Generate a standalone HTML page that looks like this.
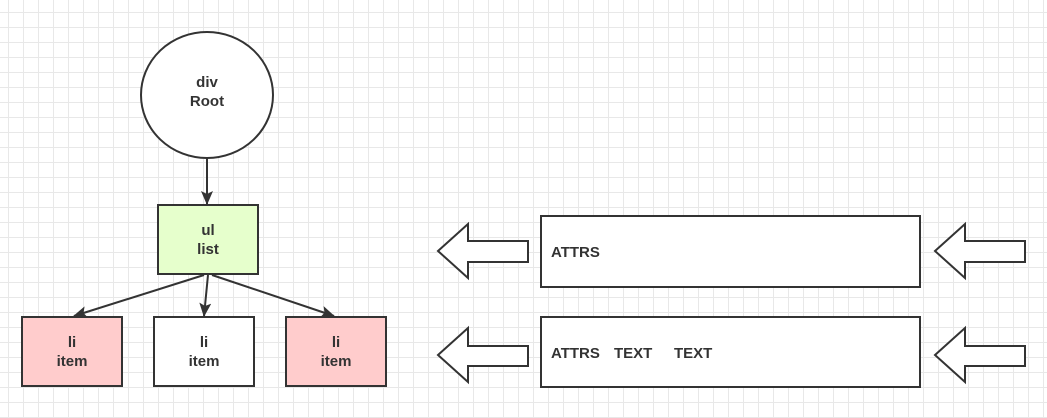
<!DOCTYPE html>
<html><head><style>
body{margin:0;width:1047px;height:418px;overflow:hidden;background:#fff;
background-image:linear-gradient(#e8e8e8 1px,transparent 1px),linear-gradient(90deg,#e8e8e8 1px,transparent 1px);
background-size:15px 15px;background-position:8px 12px;}
svg{position:absolute;left:0;top:0}
text{font-family:"Liberation Sans","Noto Sans CJK SC",sans-serif;font-weight:bold;font-size:15px;fill:#333}
</style></head><body>
<svg width="1047" height="418" viewBox="0 0 1047 418">
<defs><marker id="a" markerWidth="14" markerHeight="12" refX="13" refY="6" orient="auto" markerUnits="userSpaceOnUse"><path d="M0,0 L14,6 L0,12 L3,6 z" fill="#333"/></marker></defs>
<g stroke="#333" stroke-width="2" fill="none">
<ellipse cx="207" cy="95" rx="66" ry="63" fill="#fff"/>
<rect x="158" y="205" width="100" height="69" fill="#e6ffcc"/>
<rect x="22" y="317" width="100" height="69" fill="#ffcccc"/>
<rect x="154" y="317" width="100" height="69" fill="#fff"/>
<rect x="286" y="317" width="100" height="69" fill="#ffcccc"/>
<line x1="207" y1="158" x2="207" y2="204" marker-end="url(#a)"/>
<line x1="204" y1="275" x2="74" y2="316" marker-end="url(#a)"/>
<line x1="208" y1="275" x2="204" y2="316" marker-end="url(#a)"/>
<line x1="212" y1="275" x2="334" y2="316" marker-end="url(#a)"/>
<rect x="541" y="216" width="379" height="71" fill="#fff"/>
<rect x="541" y="317" width="379" height="70" fill="#fff"/>
<path d="M438,251 L468,224 L468,241 L528,241 L528,262 L468,262 L468,278 Z" fill="#fff"/>
<path d="M438,355 L468,328 L468,346 L528,346 L528,366 L468,366 L468,382 Z" fill="#fff"/>
<path d="M935,251 L965,224 L965,241 L1025,241 L1025,262 L965,262 L965,278 Z" fill="#fff"/>
<path d="M935,355 L965,328 L965,346 L1025,346 L1025,366 L965,366 L965,382 Z" fill="#fff"/>
</g>
<g text-anchor="middle">
<text x="207" y="87">div</text><text x="207" y="106">Root</text>
<text x="208" y="235">ul</text><text x="208" y="254">list</text>
<text x="72" y="347">li</text><text x="72" y="366">item</text>
<text x="204" y="347">li</text><text x="204" y="366">item</text>
<text x="336" y="347">li</text><text x="336" y="366">item</text>
</g>
<text x="551" y="257">ATTRS</text>
<text x="551" y="358">ATTRS</text>
<text x="614" y="358">TEXT</text>
<text x="674" y="358">TEXT</text>
</svg>
</body></html>
